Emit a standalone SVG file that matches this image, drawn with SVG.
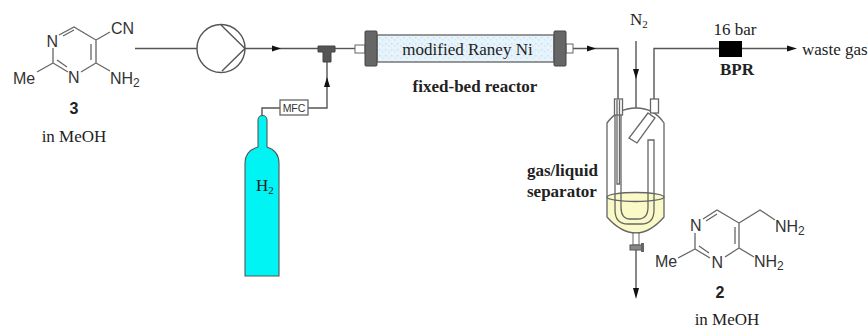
<svg xmlns="http://www.w3.org/2000/svg" width="868" height="330" viewBox="0 0 868 330">
<style>
.l{fill:none;stroke:#555;stroke-width:1.4}
.b{fill:none;stroke:#666;stroke-width:1.3}
.a{fill:#111;stroke:none}
.s{font-family:"Liberation Serif",serif;font-size:17px;fill:#222}
.sb{font-family:"Liberation Serif",serif;font-size:17px;font-weight:bold;fill:#222}
.h{font-family:"Liberation Sans",sans-serif;font-size:16px;fill:#333}
.hb{font-family:"Liberation Sans",sans-serif;font-size:16px;font-weight:bold;fill:#222}
.cap{fill:#666;stroke:#444;stroke-width:1}
</style>
<defs>
<pattern id="pk" width="6" height="6" patternUnits="userSpaceOnUse">
<rect width="6" height="6" fill="#e6f3fb"/>
<rect x="1" y="1" width="1.5" height="1.5" fill="#c4e2f5"/>
<rect x="4" y="3" width="1.5" height="1.5" fill="#cfe8f7"/>
<rect x="2" y="4.500" width="1" height="1" fill="#f8fcff"/>
</pattern>
</defs>
<g id="connectors">
<path class="l" d="M135 48.500H197M245 48.500H318"/>
<path class="a" d="M272 45.500L281 48.500L272 51.500Z"/>
<path class="l" d="M335 48.500H355"/>
<path class="l" d="M327 62V108H308"/>
<path class="a" d="M324 87L327 77L330 87Z"/>
<path class="l" d="M280 108H262V116"/>
<path class="l" d="M573 48.500H618V100"/>
<path class="a" d="M587 45.500L596 48.500L587 51.500Z"/>
<path class="l" d="M636 41V108"/>
<path class="a" d="M633 69L636 79L639 69Z"/>
<path class="l" d="M654 100V48.500H719M742 48.500H790"/>
<path class="a" d="M787 45.500L797 48.500L787 51.500Z"/>
<path class="l" d="M636 250V290"/>
<path class="a" d="M633 288L636 299L639 288Z"/>
</g>
<g id="substrate">
<path class="b" d="M59 35L74 27L96 40V63L81 72M63 36L74 30M91 44V60M53 48V63L68 72M57 60L67 67M53 63L37 72M96 40L110 32M96 63L110 71"/>
<text class="h" x="46.500" y="47">N</text>
<text class="h" x="68" y="83">N</text>
<text class="h" x="13" y="84">Me</text>
<text class="h" x="111" y="34">CN</text>
<text class="h" x="110" y="84">NH<tspan font-size="12" dy="3">2</tspan></text>
<text class="hb" x="74" y="114" text-anchor="middle">3</text>
<text class="s" x="74" y="142" text-anchor="middle">in MeOH</text>
</g>
<g id="pump">
<circle cx="221" cy="48.500" r="24" fill="#fff" stroke="#555" stroke-width="1.4"/>
<path class="l" d="M221 25L245 48.500L222 71"/>
</g>
<g id="tee">
<path d="M318 46H335V52H331V62H323V52H318Z" fill="#555" stroke="#444"/>
</g>
<g id="mfc">
<rect x="280" y="100" width="28" height="15" fill="#fff" stroke="#666" stroke-width="1.3"/>
<text x="294" y="112" text-anchor="middle" font-family="Liberation Sans,sans-serif" font-size="10.500" fill="#333">MFC</text>
</g>
<g id="cylinder">
<path d="M258 147V120A4.500 4.500 0 0 1 267 120V147Q279 151 279 163V276H245V163Q245 151 258 147Z" fill="#00f4f4" stroke="#555" stroke-width="1.1"/>
<text x="256" y="191" font-family="Liberation Serif,serif" font-size="17" fill="#222">H<tspan font-size="11" dy="3">2</tspan></text>
</g>
<g id="reactor">
<rect x="355" y="45" width="10" height="8" fill="#fff" stroke="#666"/>
<rect x="566" y="44" width="7" height="9" fill="#fff" stroke="#666"/>
<rect x="377" y="35" width="177" height="27" fill="url(#pk)" stroke="#777" stroke-width="1.5"/>
<rect class="cap" x="365" y="31" width="12" height="35" rx="1"/>
<rect class="cap" x="554" y="31" width="12" height="35" rx="1"/>
<text class="s" x="467.500" y="55" text-anchor="middle">modified Raney Ni</text>
<text class="sb" x="475" y="92" text-anchor="middle">fixed-bed reactor</text>
</g>
<g id="separator">
<path d="M607 197A28.500 4.500 0 0 1 664 197V217Q650 233 636 233Q621 233 607 217Z" fill="#fafac8"/>
<path class="b" d="M607 197A28.500 4.500 0 0 0 664 197A28.500 4.500 0 0 0 607 197"/>
<path class="b" d="M607 123Q618 108 636 108Q654 108 664 123V217Q650 233 636 233Q621 233 607 217Z"/>
<rect x="614.500" y="99" width="8" height="16" fill="#fff" stroke="#666" stroke-width="1.3"/>
<rect x="650.500" y="99" width="8" height="14" fill="#fff" stroke="#666" stroke-width="1.3"/>
<path class="b" d="M615 115V210Q615 224 628 224H641Q654 224 654 210V140H648V207Q648 219 638 219H630Q621 219 621 207V115"/>
<path class="b" d="M617 100V184H619.500V100"/>
<path d="M648 113L655 118L637 143L629 138Z" fill="#fff" stroke="#666" stroke-width="1.3"/>
<rect x="633" y="233" width="6" height="12" fill="#fff" stroke="#666"/>
<rect x="630" y="245" width="13" height="5" fill="#888" stroke="#555"/>
<rect x="641" y="243" width="3" height="9" fill="#666"/>
<text class="sb" x="527" y="176">gas/liquid</text>
<text class="sb" x="527" y="197">separator</text>
</g>
<g id="n2-label">
<text class="s" x="630" y="25">N<tspan font-size="11" dy="3">2</tspan></text>
</g>
<g id="bpr">
<rect x="719" y="41" width="23" height="16" fill="#000"/>
<text class="s" x="735" y="35" text-anchor="middle">16 bar</text>
<text class="sb" x="737" y="75" text-anchor="middle">BPR</text>
</g>
<g id="waste-gas">
<text class="s" x="802" y="55">waste gas</text>
</g>
<g id="product">
<path class="b" d="M703 219L717 210L739 223V248L725 257M706 221L717 214M735 227V244M695 233V249L710 258M699 246L709 253M695 249L678 258M739 223L760 210L775 220M739 248L754 257"/>
<text class="h" x="690" y="231">N</text>
<text class="h" x="711.500" y="268">N</text>
<text class="h" x="655" y="267">Me</text>
<text class="h" x="775" y="232">NH<tspan font-size="12" dy="3">2</tspan></text>
<text class="h" x="754" y="267">NH<tspan font-size="12" dy="3">2</tspan></text>
<text class="hb" x="720" y="298" text-anchor="middle">2</text>
<text class="s" x="727" y="325" text-anchor="middle">in MeOH</text>
</g>
</svg>
